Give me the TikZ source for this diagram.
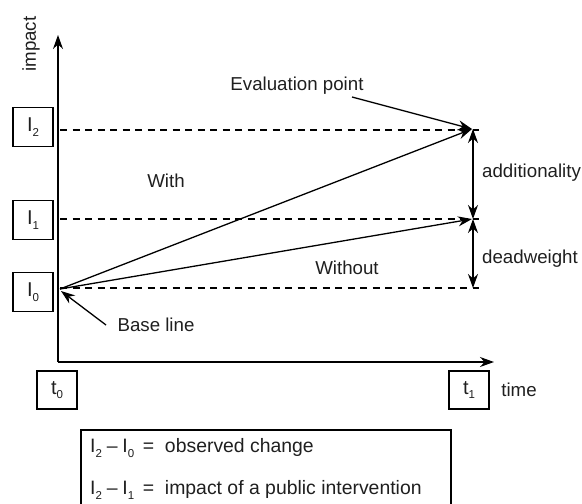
\documentclass[tikz,border=0pt]{standalone}
\usepackage{fontspec}
\setmainfont{Liberation Sans}
\usetikzlibrary{arrows.meta}
\begin{document}
\begin{tikzpicture}[x=1pt,y=-1pt,
  every node/.style={font=\fontsize{18.7}{22}\selectfont, text=black!88},
  lbl/.style={draw, line width=1.2pt, minimum width=40pt, minimum height=39pt, inner sep=0pt, font=\fontsize{20}{22}\selectfont},
  legend/.style={anchor=west, inner sep=0pt, font=\fontsize{19.4}{22}\selectfont},
  axis/.style={line width=1.4pt, -{Stealth[length=14pt,width=10pt]}},
  arr/.style={line width=1.3pt, -{Stealth[length=14pt,width=10pt]}},
  darr/.style={line width=1.3pt, {Stealth[length=14pt,width=10pt]}-{Stealth[length=14pt,width=10pt]}},
  dashline/.style={line width=1.1pt, dash pattern=on 7pt off 5.5pt}]
\useasboundingbox (0,0) rectangle (582,504);
\clip (0,0) rectangle (582,504);
\newcommand{\sbs}[1]{\raisebox{-0.45ex}{\fontsize{11.5}{12}\selectfont #1}}
% axes
\coordinate (C) at (58,362);
\coordinate (Ytip) at (58,35);
\coordinate (Xtip) at (494,362);
\draw[axis] (C) -- (Ytip);
\draw[axis] (C) -- (Xtip);
\node[rotate=90] (impact) at (31,44) {impact};
\node (time) at (519,390) {time};
% key points
\coordinate (O) at (60,289);
\coordinate (P2) at (472,129);
\coordinate (P1) at (472,219);
\coordinate (P0) at (473,288);
\coordinate (D2s) at (60,130);
\coordinate (D2e) at (479,130);
\coordinate (D1s) at (60,219);
\coordinate (D1e) at (479,219);
\coordinate (D0s) at (60,288);
\coordinate (D0e) at (479,288);
% dashed lines
\draw[dashline] (D2s) -- (D2e);
\draw[dashline] (D1s) -- (D1e);
\draw[dashline] (D0s) -- (D0e);
% level boxes
\node[lbl] (I2) at (33,127) {I\sbs{2}};
\node[lbl] (I1) at (33,220) {I\sbs{1}};
\node[lbl] (I0) at (33,292) {I\sbs{0}};
\node[lbl, minimum height=38pt] (t0) at (57,390) {t\sbs{0}};
\node[lbl, minimum height=38pt] (t1) at (469,390) {t\sbs{1}};
% with / without arrows
\draw[arr] (O) -- (P2);
\draw[arr] (O) -- (P1);
\node (with) at (166,181) {With};
\node (without) at (347,268) {Without};
% evaluation point
\node (eval) at (297,86) {Evaluation point};
\coordinate (evs) at (352,97);
\draw[arr] (evs) -- (P2);
% base line
\node (base) at (156,325) {Base line};
\coordinate (bs) at (106,325);
\coordinate (bt) at (61,291);
\draw[arr] (bs) -- (bt);
% vertical double arrows
\coordinate (V2) at (473,129);
\coordinate (V1) at (473,219);
\draw[darr] (V2) -- (V1);
\draw[darr] (V1) -- (P0);
\node[anchor=west, inner sep=0pt] (add) at (482,173) {additionality};
\node[anchor=west, inner sep=0pt] (dead) at (482,259) {deadweight};
% legend box
\draw[line width=1.2pt] (81,520) -- (81,430) -- (451,430) -- (451,520);
\node[legend] (l1) at (90,448) {I\sbs{2}\hspace{0.25em}--\hspace{0.25em}I\sbs{0}\hspace{0.45em}=\hspace{0.55em}observed change};
\node[legend] (l2) at (90,490) {I\sbs{2}\hspace{0.25em}--\hspace{0.25em}I\sbs{1}\hspace{0.45em}=\hspace{0.55em}impact of a public intervention};
\end{tikzpicture}
\end{document}
